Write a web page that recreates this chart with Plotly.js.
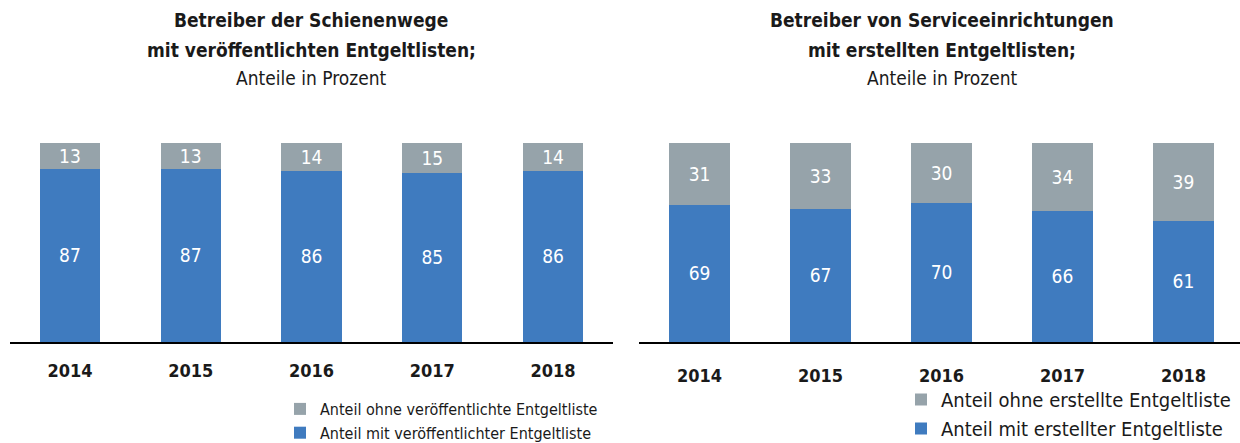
<!DOCTYPE html>
<html>
<head>
<meta charset="utf-8">
<script src="https://cdn.plot.ly/plotly-3.0.1.min.js"></script>
<style>html,body{margin:0;padding:0;background:#fff;}#chart{width:1240px;height:443px;}</style>
</head>
<body>
<div id="chart"></div>
<script>
const years = ['2014', '2015', '2016', '2017', '2018'];
const schieneMit = [87, 87, 86, 85, 86];
const schieneOhne = [13, 13, 14, 15, 14];
const serviceMit = [69, 67, 70, 66, 61];
const serviceOhne = [31, 33, 30, 34, 39];
const legendLeft = ['Anteil mit veröffentlichter Entgeltliste', 'Anteil ohne veröffentlichte Entgeltliste'];
const legendRight = ['Anteil mit erstellter Entgeltliste', 'Anteil ohne erstellte Entgeltliste'];
const titleLeft = ['Betreiber der Schienenwege', 'mit veröffentlichten Entgeltlisten;', 'Anteile in Prozent'];
const titleRight = ['Betreiber von Serviceeinrichtungen', 'mit erstellten Entgeltlisten;', 'Anteile in Prozent'];

const BLUE = '#3f7bbf';
const GREY = '#96a3aa';
const FONT = '"DejaVu Sans Condensed", "Liberation Sans Narrow", sans-serif';

function barTrace(y, name, color, xa, ya, leg) {
  return {
    type: 'bar', x: years, y: y, name: name, xaxis: xa, yaxis: ya, legend: leg,
    marker: {color: color, line: {width: 0}},
    text: y.map(String), textposition: 'inside', insidetextanchor: 'middle',
    constraintext: 'none', textangle: 0,
    textfont: {color: '#ffffff', size: 19, family: FONT},
    hoverinfo: 'skip'
  };
}

const data = [
  barTrace(schieneMit, legendLeft[0], BLUE, 'x', 'y', 'legend'),
  barTrace(schieneOhne, legendLeft[1], GREY, 'x', 'y', 'legend'),
  barTrace(serviceMit, legendRight[0], BLUE, 'x2', 'y2', 'legend2'),
  barTrace(serviceOhne, legendRight[1], GREY, 'x2', 'y2', 'legend2')
];

const ytop = 1 - 143 / 443, ybot = 1 - 342 / 443;

function titleAnns(lines, xc) {
  const ys = [20, 50, 78];
  return lines.map((t, i) => ({
    text: i < 2 ? '<b>' + t + '</b>' : t,
    xref: 'paper', yref: 'paper', x: xc / 1240, y: 1 - ys[i] / 443,
    xanchor: 'center', yanchor: 'middle', showarrow: false,
    font: {family: FONT, size: 19, color: '#1a1a1a'}
  }));
}

const xcommon = {
  type: 'category', showgrid: false, zeroline: false, showline: true,
  linecolor: '#000', linewidth: 2, ticks: '',
  tickfont: {family: FONT, size: 18, color: '#1a1a1a', weight: 'bold'}
};
const ycommon = {range: [0, 100], showgrid: false, zeroline: false, showline: false, showticklabels: false};

const layout = {
  width: 1240, height: 443, margin: {l: 0, r: 0, t: 0, b: 0, autoexpand: false},
  paper_bgcolor: '#fff', plot_bgcolor: '#fff',
  barmode: 'stack', bargap: 0.5, showlegend: true,
  font: {family: FONT},
  xaxis: Object.assign({}, xcommon, {domain: [9.6 / 1240, 613.4 / 1240], anchor: 'y', range: [-0.5, 4.5], ticklabelstandoff: 11}),
  yaxis: Object.assign({}, ycommon, {domain: [ybot, ytop], anchor: 'x'}),
  xaxis2: Object.assign({}, xcommon, {domain: [639 / 1240, 1], anchor: 'y2', range: [-0.5, 4.467], ticklabelstandoff: 16}),
  yaxis2: Object.assign({}, ycommon, {domain: [ybot, ytop], anchor: 'x2'}),
  legend: {
    x: 280 / 1240, y: 1 - 392 / 443, xanchor: 'left', yanchor: 'top',
    traceorder: 'reversed', font: {family: FONT, size: 16, color: '#1a1a1a'},
    itemwidth: 30, tracegroupgap: 0, bgcolor: 'rgba(0,0,0,0)'
  },
  legend2: {
    x: 901 / 1240, y: 1 - 380 / 443, xanchor: 'left', yanchor: 'top',
    traceorder: 'reversed', font: {family: FONT, size: 20, color: '#1a1a1a'},
    itemwidth: 30, tracegroupgap: 0, bgcolor: 'rgba(0,0,0,0)'
  },
  annotations: titleAnns(titleLeft, 311).concat(titleAnns(titleRight, 942))
};

Plotly.newPlot('chart', data, layout, {displayModeBar: false, staticPlot: true});
</script>
</body>
</html>
